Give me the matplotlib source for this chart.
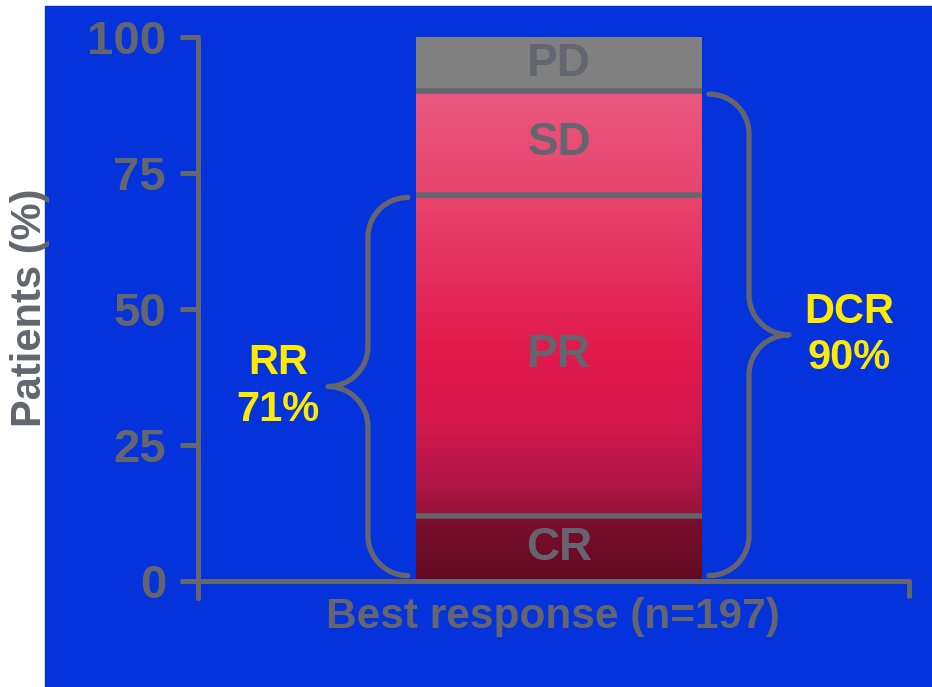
import numpy as np
import matplotlib
matplotlib.use('Agg')
import matplotlib.pyplot as plt
from matplotlib.patches import Rectangle
from matplotlib.colors import LinearSegmentedColormap

plt.rcParams['font.family'] = ['Liberation Sans', 'DejaVu Sans']
plt.rcParams['font.weight'] = 'bold'

# best response breakdown, % of patients (stacked bottom -> top)
segments = ['CR', 'PR', 'SD', 'PD']
shares = [12, 59, 19, 10]
rr_pct = 71      # CR + PR
dcr_pct = 90     # CR + PR + SD
y_ticks = [0, 25, 50, 75, 100]

BLUE = '#0433DC'
GREY = '#65656f'
YELLOW = '#FFEA00'
PD_FILL = '#808080'

W, H = 932, 687
fig = plt.figure(figsize=(W / 100, H / 100), dpi=100, facecolor='white')
fig.patches.append(Rectangle((45 / W, 0), 1 - 45 / W, (H - 6) / H,
                             transform=fig.transFigure, color=BLUE, zorder=-10))

ax_l, ax_r = 198 / W, 909 / W
ax_b, ax_t = (H - 598) / H, (H - 37) / H
ax = fig.add_axes([ax_l, ax_b, ax_r - ax_l, ax_t - ax_b])
ax.set_facecolor('none')

# pixels per data unit, used to keep brace curves circular
px_x = (ax_r - ax_l) * W / 10
px_y = (ax_t - ax_b) * H / 103.125

# stacked bar
x_bar, w_bar = 5.08, 4.02
bottoms = np.concatenate([[0], np.cumsum(shares)[:-1]])
bars = ax.bar([x_bar] * 4, shares, bottom=bottoms, width=w_bar,
              color=['none', 'none', 'none', PD_FILL], linewidth=0, zorder=2)

# pink -> maroon vertical shading for CR/PR/SD
stops = [(0, '#640A23'), (11.9, '#7C0E2C'), (12.1, '#971437'), (20, '#B8164A'),
         (30, '#D6184C'), (42, '#E1194C'), (55, '#E42C5C'), (71, '#E7446C'),
         (90, '#EA5880')]
cmap = LinearSegmentedColormap.from_list('resp', [(v / 90, c) for v, c in stops])
grad = np.linspace(0, 1, 600).reshape(-1, 1)
for b in list(bars)[:3]:
    im = ax.imshow(grad, cmap=cmap, origin='lower', aspect='auto',
                   extent=[x_bar - w_bar / 2, x_bar + w_bar / 2, 0, 90], zorder=2)
    im.set_clip_path(b)
ax.set_xlim(0, 10)
ax.set_ylim(-3.125, 100)

# divider lines between segments
for y in np.cumsum(shares)[:-1]:
    ax.plot([x_bar - w_bar / 2, x_bar + w_bar / 2], [y, y], color=GREY, lw=4,
            solid_capstyle='butt', zorder=3)

for name, b0, h in zip(segments, bottoms, shares):
    ax.text(x_bar, b0 + h / 2, name, ha='center', va='center', fontsize=33,
            color=GREY, fontweight='bold', zorder=4)


def brace(xv, y0, y1, s, r=40):
    """Curly brace with vertical stem at xv; s=+1 tip points right, -1 left."""
    rx, ry = r / px_x, r / px_y
    ym = (y0 + y1) / 2
    t = np.linspace(0, np.pi / 2, 30)
    xs = np.concatenate([
        xv - s * rx + s * rx * np.sin(t),
        xv + s * rx - s * rx * np.cos(t),
        xv + s * rx - s * rx * np.sin(t),
        xv - s * rx + s * rx * np.cos(t)])
    ys = np.concatenate([
        y1 - ry + ry * np.cos(t),
        ym + ry - ry * np.sin(t),
        ym - ry + ry * np.cos(t),
        y0 + ry - ry * np.sin(t)])
    ax.plot(xs, ys, color=GREY, lw=3.8, solid_capstyle='round',
            solid_joinstyle='round', clip_on=False, zorder=3)
    return xv + s * rx, ym


tip_x, tip_y = brace(2.39, 1.0, rr_pct - 0.5, -1)
ax.text(1.125, tip_y, 'RR\n%d%%' % rr_pct, ha='center', va='center',
        fontsize=30, color=YELLOW, fontweight='bold', linespacing=1.2)
tip_x, tip_y = brace(7.75, 1.0, dcr_pct - 0.5, 1)
ax.text(9.16, tip_y, 'DCR\n%d%%' % dcr_pct, ha='center', va='center',
        fontsize=30, color=YELLOW, fontweight='bold', linespacing=1.2)

# axes styling
for side in ('top', 'right'):
    ax.spines[side].set_visible(False)
ax.spines['bottom'].set_position(('data', 0))
for side in ('left', 'bottom'):
    ax.spines[side].set_color(GREY)
    ax.spines[side].set_linewidth(3.6)
    ax.spines[side].set_capstyle('round')
ax.set_yticks(y_ticks)
ax.tick_params(axis='y', direction='out', length=13, width=3.6, color=GREY,
               labelsize=34, labelcolor=GREY, pad=10)
ax.set_xticks([10])
ax.set_xticklabels([''])
ax.tick_params(axis='x', direction='out', length=12, width=3.6, color=GREY)

fig.text(553 / W, 1 - 617 / H, 'Best response (n=197)', ha='center', va='center',
         fontsize=30.5, color=GREY, fontweight='bold')
fig.text(30 / W, 1 - 307.5 / H, 'Patients (%)', rotation=90, ha='center',
         va='center', fontsize=30, color=GREY, fontweight='bold')

fig.savefig('out.png', dpi=100, facecolor='white')
